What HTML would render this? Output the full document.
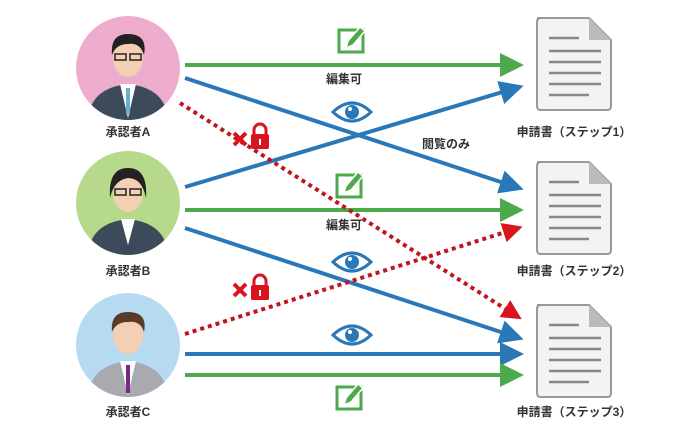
<!DOCTYPE html>
<html><head><meta charset="utf-8"><style>
body{margin:0;background:#fff;}
svg{display:block}
text{font-family:"Liberation Sans","Noto Sans CJK JP",sans-serif;font-weight:bold;fill:#333}
</style></head><body>
<svg width="700" height="438" viewBox="0 0 700 438" xmlns="http://www.w3.org/2000/svg">
<defs>
<marker id="g" markerWidth="6" markerHeight="6" refX="4" refY="3" orient="auto" markerUnits="strokeWidth"><path d="M0,0L6,3L0,6z" fill="#4caa4c"/></marker>
<marker id="b" markerWidth="6" markerHeight="6" refX="4" refY="3" orient="auto" markerUnits="strokeWidth"><path d="M0,0L6,3L0,6z" fill="#2a78b8"/></marker>
<marker id="r" markerWidth="5" markerHeight="5" refX="3" refY="2.5" orient="auto" markerUnits="strokeWidth"><path d="M0,0L5,2.5L0,5z" fill="#d8141e"/></marker>
<g id="doc"><path d="M0,0H52L74,22V88Q74,92 70,92H4Q0,92 0,88V4Q0,0 4,0Z" fill="#f3f3f3" stroke="#999" stroke-width="2"/><path d="M52,0V22H74Z" fill="#bbb"/><g stroke="#888" stroke-width="2.5"><line x1="12" y1="20" x2="42" y2="20"/><line x1="12" y1="33" x2="64" y2="33"/><line x1="12" y1="44" x2="64" y2="44"/><line x1="12" y1="55" x2="64" y2="55"/><line x1="12" y1="66" x2="64" y2="66"/><line x1="12" y1="77" x2="52" y2="77"/></g></g>
<g id="edit"><rect x="-13" y="-10" width="24" height="22" fill="none" stroke="#4caa4c" stroke-width="3"/><path d="M-6,8L-4,1L8,-13L13,-9L1,5Z" fill="#4caa4c" stroke="#fff" stroke-width="1.5"/></g>
<g id="eye"><path d="M-19,0Q0,-18 19,0Q0,18 -19,0Z" fill="#fff" stroke="#2a78b8" stroke-width="3"/><circle r="7" fill="#2a78b8"/><circle cx="-2" cy="-3" r="2" fill="#fff"/></g>
<g id="lock"><path d="M-12,2L0,14M0,2L-12,14" stroke="#d8141e" stroke-width="4"/><path d="M8,4V-1a6,6 0 0 1 12,0V4" fill="none" stroke="#d8141e" stroke-width="3"/><rect x="5" y="3" width="18" height="15" rx="2" fill="#d8141e"/><rect x="13" y="8" width="2" height="6" fill="#fff"/></g>
</defs>
<g>
<circle cx="128" cy="68" r="52" fill="#eeaccd"/>
<circle cx="128" cy="203" r="52" fill="#b6d98c"/>
<circle cx="128" cy="345" r="52" fill="#b6daf0"/>
<clipPath id="c1"><circle cx="128" cy="68" r="52"/></clipPath>
<clipPath id="c2"><circle cx="128" cy="203" r="52"/></clipPath>
<clipPath id="c3"><circle cx="128" cy="345" r="52"/></clipPath>
<g clip-path="url(#c1)"><path d="M88,120Q90,88 128,84Q166,88 168,120Z" fill="#3c4a5a"/><path d="M120,84L128,118L136,84Z" fill="#fff"/><rect x="126" y="88" width="4" height="26" fill="#6ab0d0"/><ellipse cx="128" cy="58" rx="15" ry="19" fill="#f3cfb3"/><path d="M112,55Q110,34 128,34Q148,34 144,55Q140,42 128,44Q116,44 112,55Z" fill="#222"/><rect x="115" y="54" width="11" height="6" fill="none" stroke="#222" stroke-width="1.5"/><rect x="130" y="54" width="11" height="6" fill="none" stroke="#222" stroke-width="1.5"/></g>
<g clip-path="url(#c2)"><path d="M88,255Q90,223 128,219Q166,223 168,255Z" fill="#3c4a5a"/><path d="M121,219L128,245L135,219Z" fill="#fff"/><ellipse cx="128" cy="193" rx="15" ry="19" fill="#f3cfb3"/><path d="M110,198Q108,168 128,168Q148,168 146,198Q142,178 128,178Q114,180 110,198Z" fill="#222"/><rect x="115" y="189" width="11" height="6" fill="none" stroke="#222" stroke-width="1.5"/><rect x="130" y="189" width="11" height="6" fill="none" stroke="#222" stroke-width="1.5"/></g>
<g clip-path="url(#c3)"><path d="M88,397Q90,365 128,361Q166,365 168,397Z" fill="#a8aab0"/><path d="M120,361L128,395L136,361Z" fill="#fff"/><rect x="126" y="365" width="4" height="28" fill="#7a2a80"/><ellipse cx="128" cy="335" rx="15" ry="19" fill="#f3cfb3"/><path d="M112,332Q110,312 128,312Q148,312 144,332Q140,320 128,322Q116,322 112,332Z" fill="#5a3a28"/></g>
</g>
<text x="128" y="136" font-size="12" text-anchor="middle">承認者A</text>
<text x="128" y="275" font-size="12" text-anchor="middle">承認者B</text>
<text x="128" y="416" font-size="12" text-anchor="middle">承認者C</text>
<use href="#doc" x="537" y="18"/>
<use href="#doc" x="537" y="162"/>
<use href="#doc" x="537" y="305"/>
<text x="574" y="136" font-size="12" text-anchor="middle">申請書（ステップ1）</text>
<text x="574" y="275" font-size="12" text-anchor="middle">申請書（ステップ2）</text>
<text x="574" y="416" font-size="12" text-anchor="middle">申請書（ステップ3）</text>
<g fill="none" stroke-width="4">
<line x1="185" y1="65" x2="516" y2="65" stroke="#4caa4c" marker-end="url(#g)"/>
<line x1="185" y1="78" x2="516" y2="187" stroke="#2a78b8" marker-end="url(#b)"/>
<line x1="185" y1="187" x2="516" y2="88" stroke="#2a78b8" marker-end="url(#b)"/>
<line x1="185" y1="210" x2="516" y2="210" stroke="#4caa4c" marker-end="url(#g)"/>
<line x1="185" y1="228" x2="516" y2="337" stroke="#2a78b8" marker-end="url(#b)"/>
<line x1="185" y1="354" x2="516" y2="354" stroke="#2a78b8" marker-end="url(#b)"/>
<line x1="185" y1="375" x2="516" y2="375" stroke="#4caa4c" marker-end="url(#g)"/>
<line x1="180" y1="103" x2="515" y2="315" stroke="#c0141e" stroke-dasharray="4,4" marker-end="url(#r)"/>
<line x1="185" y1="334" x2="515" y2="229" stroke="#c0141e" stroke-dasharray="4,4" marker-end="url(#r)"/>
</g>
<use href="#edit" x="352" y="40"/>
<use href="#edit" x="350" y="185"/>
<use href="#edit" x="350" y="397"/>
<use href="#eye" x="352" y="112"/>
<use href="#eye" x="352" y="262"/>
<use href="#eye" x="352" y="335"/>
<use href="#lock" x="246" y="131"/>
<use href="#lock" x="246" y="282"/>
<text x="344" y="83" font-size="12" text-anchor="middle">編集可</text>
<text x="344" y="229" font-size="12" text-anchor="middle">編集可</text>
<text x="446" y="148" font-size="12" text-anchor="middle">閲覧のみ</text>
</svg>
</body></html>
